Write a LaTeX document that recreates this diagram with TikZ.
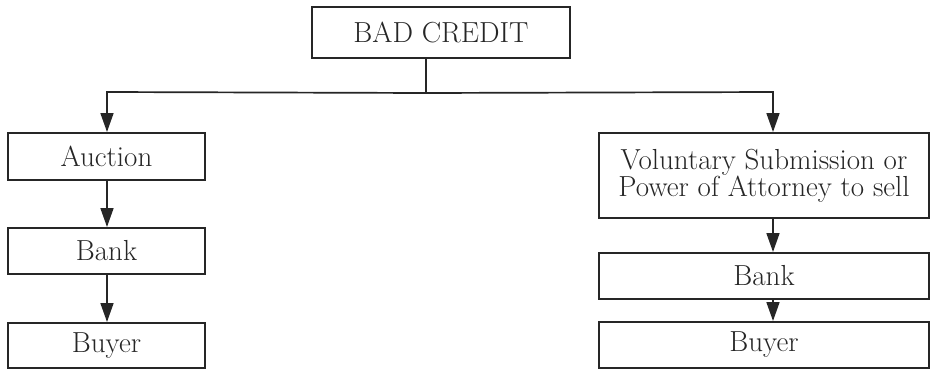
\documentclass[tikz,border=0pt]{standalone}
\usetikzlibrary{arrows.meta,calc}
\begin{document}
\begin{tikzpicture}[x=1pt,y=-1pt,
  box/.style={draw=black!85,line width=2pt,fill=white,inner sep=0pt,align=center,
    font=\fontsize{29}{27}\selectfont,text=black!85},
  conn/.style={draw=black!85,line width=1.7pt},
  arr/.style={conn,-{Triangle[length=19pt,width=13pt]}}]
\useasboundingbox[fill=white] (0,0) rectangle (930,370);
\node[box,minimum width=258pt,minimum height=51pt] (bad) at (441,32.5) {BAD CREDIT};
\node[box,minimum width=197pt,minimum height=47pt] (auc) at (106.5,156.5) {Auction};
\node[box,minimum width=197pt,minimum height=46pt] (bankl) at (106.5,251) {Bank};
\node[box,minimum width=197pt,minimum height=45pt] (buyl) at (106.5,345.5) {Buyer};
\node[box,minimum width=330pt,minimum height=85pt] (vol) at (764,175.5) {Voluntary Submission or\\Power of Attorney to sell};
\node[box,minimum width=330pt,minimum height=46pt] (bankr) at (764,276) {Bank};
\node[box,minimum width=330pt,minimum height=46pt] (buyr) at (764,345) {Buyer};
\coordinate (j) at ($(bad.south)+(-15,34)$);
\coordinate (jl) at (107,92);
\coordinate (jr) at (773,92);
\draw[conn] ($(bad.south)+(-15,0)$) -- (j);
\draw[arr] (j) -- (jl) -- (jl|-auc.north);
\draw[arr] (j) -- (jr) -- (jr|-vol.north);
\draw[arr] (jl|-auc.south) -- (jl|-bankl.north);
\draw[arr] (jl|-bankl.south) -- (jl|-buyl.north);
\draw[arr] (jr|-vol.south) -- (jr|-bankr.north);
\draw[arr] (jr|-bankr.south) -- (jr|-buyr.north);
\end{tikzpicture}
\end{document}
